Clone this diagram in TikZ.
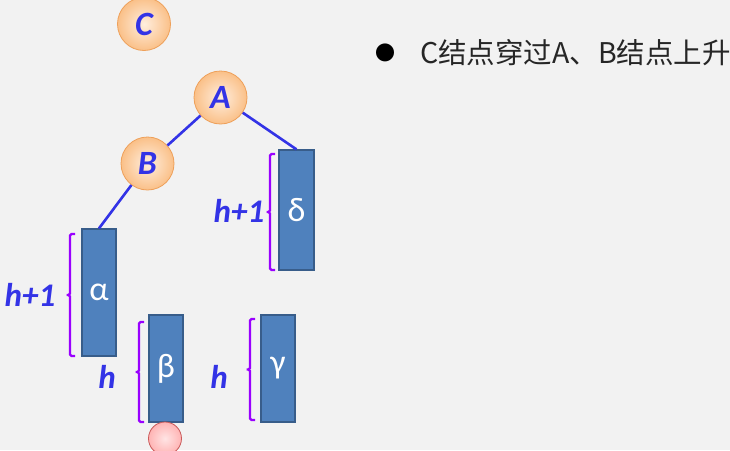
\documentclass[tikz,border=0pt]{standalone}
\usepackage{fontspec}
\newfontfamily\carlito{Carlito}
\newfontfamily\cjk{Noto Sans CJK SC}
\usetikzlibrary{calc}
\definecolor{bg}{RGB}{242,242,242}
\definecolor{ballin}{RGB}{255,238,222}
\definecolor{ballout}{RGB}{250,192,136}
\definecolor{ballrim}{RGB}{238,160,90}
\definecolor{treeblue}{RGB}{51,51,230}
\definecolor{boxfill}{RGB}{79,129,189}
\definecolor{boxrim}{RGB}{56,93,138}
\definecolor{bracecol}{RGB}{153,0,255}
\definecolor{pinkin}{RGB}{255,228,228}
\definecolor{pinkout}{RGB}{255,180,180}
\definecolor{pinkrim}{RGB}{200,90,90}
\tikzset{
  ball/.style={circle, draw=ballrim, line width=0.8pt, inner color=ballin, outer color=ballout,
    minimum size=53pt, inner sep=0pt, text=treeblue, font=\carlito\bfseries\itshape\fontsize{34}{34}\selectfont},
  subtree/.style={rectangle, draw=boxrim, line width=1.2pt, fill=boxfill, minimum width=34pt,
    inner sep=0pt, text=white, font=\carlito\fontsize{34}{34}\selectfont},
  edge/.style={draw=treeblue, line width=2.6pt},
  brace/.style={draw=bracecol, line width=2.4pt, rounded corners=1.5pt},
  hlabel/.style={text=treeblue, font=\carlito\bfseries\itshape\fontsize{33}{33}\selectfont, inner sep=0pt},
}
\newcommand{\hbrace}[3]{%
  \draw[brace] (#1+5,#2) -- (#1,#2) -- (#1,{(#2+#3)/2}) -- (#1-5,{(#2+#3)/2}) -- (#1,{(#2+#3)/2}) -- (#1,#3) -- (#1+5,#3);}
\begin{document}
\begin{tikzpicture}[x=1pt,y=-1pt]
\fill[bg] (0,0) rectangle (730,450);
\useasboundingbox (0,0) rectangle (730,450);
% nodes
\node[ball] (C) at (144,24) {C};
\node[ball] (A) at (220.5,97.5) {A};
\node[ball] (B) at (147.5,163.5) {B};
\node[subtree, minimum height=127pt] (alpha) at (99,292.5) {α};
\node[subtree, minimum height=107pt] (beta) at (166,368.5) {β};
\node[subtree, minimum height=107pt] (gamma) at (278,368.5) {γ};
\node[subtree, minimum width=35pt, minimum height=120pt] (delta) at (296.5,210) {δ};
\node[circle, draw=pinkrim, line width=0.8pt, inner color=pinkin, outer color=pinkout, minimum size=33pt, inner sep=0pt] (new) at (165,438.5) {};
% connectors
\draw[edge] (A) -- (B);
\draw[edge] (A) -- (delta.north);
\draw[edge] (B) -- (alpha.north);
% braces
\hbrace{70}{234}{356}
\hbrace{139}{322}{422}
\hbrace{250}{319}{420}
\hbrace{270}{154}{270}
% labels
\node[hlabel] (la) at (30,295) {h+1};
\node[hlabel] (lb) at (107,377) {h};
\node[hlabel] (lg) at (219,377) {h};
\node[hlabel] (ld) at (239,211) {h+1};
% text
\node[font=\cjk\fontsize{20}{20}\selectfont, inner sep=0pt] (bul) at (385,53) {●};
\node[anchor=west, font=\cjk\fontsize{28.5}{28.5}\selectfont, inner sep=0pt, text=black!85] (txt) at (420,53) {C结点穿过A、B结点上升};
\end{tikzpicture}
\end{document}
